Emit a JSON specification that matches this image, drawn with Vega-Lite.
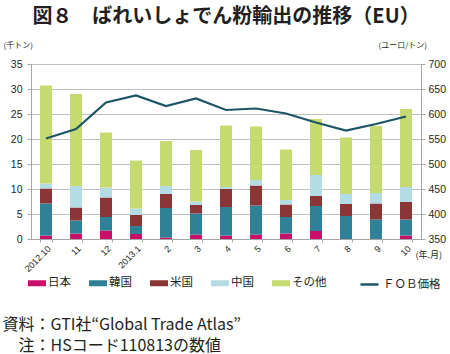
{
  "$schema": "https://vega.github.io/schema/vega-lite/v6.json",
  "width": 390,
  "height": 175,
  "autosize": {"type": "none"},
  "padding": {"left": 31, "top": 64, "right": 29, "bottom": 115},
  "background": "white",
  "title": {
    "text": "図８　ばれいしょでん粉輸出の推移（EU）",
    "anchor": "middle",
    "frame": "group",
    "font": "Noto Sans CJK JP",
    "fontSize": 20,
    "fontWeight": "bold",
    "color": "#231F20",
    "offset": 14
  },
  "config": {
    "view": {"stroke": null},
    "axis": {
      "domainColor": "#A6A6A6",
      "tickColor": "#A6A6A6",
      "labelColor": "#231F20",
      "titleColor": "#231F20",
      "titleFontWeight": "normal"
    }
  },
  "datasets": {
    "bars": [
      {"month": "2012.10", "country": "日本", "value": 0.7},
      {"month": "2012.10", "country": "韓国", "value": 6.4},
      {"month": "2012.10", "country": "米国", "value": 3.0},
      {"month": "2012.10", "country": "中国", "value": 1.0},
      {"month": "2012.10", "country": "その他", "value": 19.6},
      {"month": "11", "country": "日本", "value": 1.1},
      {"month": "11", "country": "韓国", "value": 2.6},
      {"month": "11", "country": "米国", "value": 2.6},
      {"month": "11", "country": "中国", "value": 4.3},
      {"month": "11", "country": "その他", "value": 18.4},
      {"month": "12", "country": "日本", "value": 1.7},
      {"month": "12", "country": "韓国", "value": 2.7},
      {"month": "12", "country": "米国", "value": 3.9},
      {"month": "12", "country": "中国", "value": 2.0},
      {"month": "12", "country": "その他", "value": 11.0},
      {"month": "2013.1", "country": "日本", "value": 1.0},
      {"month": "2013.1", "country": "韓国", "value": 1.6},
      {"month": "2013.1", "country": "米国", "value": 2.2},
      {"month": "2013.1", "country": "中国", "value": 1.3},
      {"month": "2013.1", "country": "その他", "value": 9.6},
      {"month": "2", "country": "日本", "value": 0.3},
      {"month": "2", "country": "韓国", "value": 5.9},
      {"month": "2", "country": "米国", "value": 2.8},
      {"month": "2", "country": "中国", "value": 1.6},
      {"month": "2", "country": "その他", "value": 9.0},
      {"month": "3", "country": "日本", "value": 0.9},
      {"month": "3", "country": "韓国", "value": 4.2},
      {"month": "3", "country": "米国", "value": 1.7},
      {"month": "3", "country": "中国", "value": 0.7},
      {"month": "3", "country": "その他", "value": 10.3},
      {"month": "4", "country": "日本", "value": 0.7},
      {"month": "4", "country": "韓国", "value": 5.7},
      {"month": "4", "country": "米国", "value": 3.6},
      {"month": "4", "country": "中国", "value": 0.4},
      {"month": "4", "country": "その他", "value": 12.3},
      {"month": "5", "country": "日本", "value": 0.9},
      {"month": "5", "country": "韓国", "value": 5.8},
      {"month": "5", "country": "米国", "value": 4.0},
      {"month": "5", "country": "中国", "value": 1.1},
      {"month": "5", "country": "その他", "value": 10.7},
      {"month": "6", "country": "日本", "value": 1.1},
      {"month": "6", "country": "韓国", "value": 3.3},
      {"month": "6", "country": "米国", "value": 2.5},
      {"month": "6", "country": "中国", "value": 0.9},
      {"month": "6", "country": "その他", "value": 10.1},
      {"month": "7", "country": "日本", "value": 1.6},
      {"month": "7", "country": "韓国", "value": 5.0},
      {"month": "7", "country": "米国", "value": 2.0},
      {"month": "7", "country": "中国", "value": 4.2},
      {"month": "7", "country": "その他", "value": 11.2},
      {"month": "8", "country": "日本", "value": 0.0},
      {"month": "8", "country": "韓国", "value": 4.6},
      {"month": "8", "country": "米国", "value": 2.4},
      {"month": "8", "country": "中国", "value": 2.0},
      {"month": "8", "country": "その他", "value": 11.3},
      {"month": "9", "country": "日本", "value": 0.0},
      {"month": "9", "country": "韓国", "value": 3.9},
      {"month": "9", "country": "米国", "value": 3.2},
      {"month": "9", "country": "中国", "value": 2.1},
      {"month": "9", "country": "その他", "value": 13.4},
      {"month": "10", "country": "日本", "value": 0.7},
      {"month": "10", "country": "韓国", "value": 3.2},
      {"month": "10", "country": "米国", "value": 3.5},
      {"month": "10", "country": "中国", "value": 3.0},
      {"month": "10", "country": "その他", "value": 15.6}
    ],
    "fob": [
      {"month": "2012.10", "series": "ＦＯＢ価格", "price": 551},
      {"month": "11", "series": "ＦＯＢ価格", "price": 570},
      {"month": "12", "series": "ＦＯＢ価格", "price": 623},
      {"month": "2013.1", "series": "ＦＯＢ価格", "price": 637},
      {"month": "2", "series": "ＦＯＢ価格", "price": 616},
      {"month": "3", "series": "ＦＯＢ価格", "price": 631},
      {"month": "4", "series": "ＦＯＢ価格", "price": 608},
      {"month": "5", "series": "ＦＯＢ価格", "price": 611},
      {"month": "6", "series": "ＦＯＢ価格", "price": 601},
      {"month": "7", "series": "ＦＯＢ価格", "price": 583},
      {"month": "8", "series": "ＦＯＢ価格", "price": 567},
      {"month": "9", "series": "ＦＯＢ価格", "price": 580},
      {"month": "10", "series": "ＦＯＢ価格", "price": 595}
    ]
  },
  "layer": [
    {
      "data": {"name": "bars"},
      "transform": [
        {"calculate": "indexof(['日本', '韓国', '米国', '中国', 'その他'], datum.country)", "as": "stackOrder"}
      ],
      "mark": {"type": "bar"},
      "encoding": {
        "x": {
          "field": "month",
          "type": "nominal",
          "sort": null,
          "scale": {"paddingInner": 0.6, "paddingOuter": 0.3},
          "axis": {
            "title": "(年.月)",
            "titleX": 384,
            "titleY": 15,
            "titleAlign": "left",
            "titleBaseline": "middle",
            "titleFont": "Noto Sans CJK JP",
            "titleFontSize": 9,
            "labelAngle": -45,
            "labelFont": "Liberation Sans",
            "labelFontSize": 9,
            "labelPadding": 2,
            "tickBand": "extent",
            "tickSize": 3,
            "grid": false
          }
        },
        "y": {
          "field": "value",
          "type": "quantitative",
          "stack": "zero",
          "scale": {"domain": [0, 35], "nice": false},
          "axis": {
            "title": "(千トン)",
            "titleAngle": 0,
            "titleX": -28,
            "titleY": -19,
            "titleAlign": "left",
            "titleBaseline": "middle",
            "titleFont": "Noto Sans CJK JP",
            "titleFontSize": 8,
            "values": [0, 5, 10, 15, 20, 25, 30, 35],
            "grid": true,
            "gridColor": "#BFBFBF",
            "labelFont": "Liberation Sans",
            "labelFontSize": 10.5,
            "labelPadding": 5,
            "tickSize": 4
          }
        },
        "order": {"field": "stackOrder", "type": "quantitative", "sort": "ascending"},
        "color": {
          "field": "country",
          "type": "nominal",
          "sort": ["日本", "韓国", "米国", "中国", "その他"],
          "scale": {
            "domain": ["日本", "韓国", "米国", "中国", "その他"],
            "range": ["#C8106B", "#2E8197", "#8B3536", "#B4DCE4", "#C6DB6F"]
          },
          "legend": {
            "orient": "none",
            "legendX": -3,
            "legendY": 210,
            "direction": "horizontal",
            "columns": 5,
            "title": null,
            "symbolType": "M-1,-0.333H1V0.333H-1Z",
            "symbolSize": 324,
            "symbolStrokeWidth": 0,
            "labelFont": "Noto Sans CJK JP",
            "labelFontSize": 11.5,
            "labelColor": "#231F20",
            "labelOffset": 2,
            "columnPadding": 18
          }
        }
      }
    },
    {
      "data": {"name": "fob"},
      "mark": {"type": "line", "strokeWidth": 2.2},
      "encoding": {
        "x": {
          "field": "month",
          "type": "nominal",
          "sort": null,
          "axis": {
            "orient": "top",
            "labels": false,
            "ticks": false,
            "domain": false,
            "grid": false,
            "title": ["資料：GTI社“Global Trade Atlas”", "\u200d　注：HSコード110813の数値"],
            "titleX": -29,
            "titleY": 265,
            "titleAlign": "left",
            "titleBaseline": "alphabetic",
            "titleFont": "Noto Sans CJK JP",
            "titleFontSize": 16,
            "titleLineHeight": 21
          }
        },
        "y": {
          "field": "price",
          "type": "quantitative",
          "scale": {"domain": [350, 700], "nice": false},
          "axis": {
            "orient": "right",
            "title": "(ユーロ/トン)",
            "titleAngle": 0,
            "titleX": -43,
            "titleY": -19,
            "titleAlign": "left",
            "titleBaseline": "middle",
            "titleFont": "Noto Sans CJK JP",
            "titleFontSize": 8,
            "values": [350, 400, 450, 500, 550, 600, 650, 700],
            "grid": false,
            "labelFont": "Liberation Sans",
            "labelFontSize": 10.5,
            "labelPadding": 3,
            "tickSize": 4
          }
        },
        "stroke": {
          "field": "series",
          "type": "nominal",
          "scale": {"range": ["#1E5566"]},
          "legend": {
            "orient": "none",
            "legendX": 328,
            "legendY": 210,
            "title": null,
            "symbolType": "stroke",
            "symbolSize": 324,
            "symbolStrokeWidth": 2.5,
            "labelFont": "Noto Sans CJK JP",
            "labelFontSize": 11.5,
            "labelColor": "#231F20",
            "labelOffset": 3
          }
        }
      }
    }
  ],
  "resolve": {
    "scale": {"y": "independent"},
    "axis": {"y": "independent", "x": "independent"}
  }
}
